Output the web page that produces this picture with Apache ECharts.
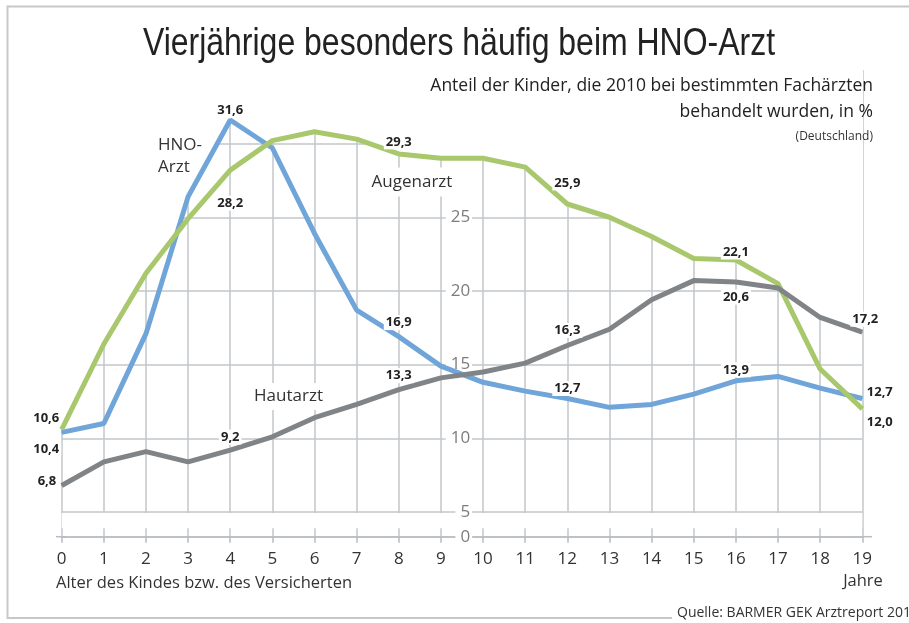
<!DOCTYPE html>
<html>
<head>
<meta charset="utf-8">
<script src="https://cdn.jsdelivr.net/npm/echarts@6/dist/echarts.min.js"></script>
<style>
html,body{margin:0;padding:0;background:#fff;}
#c{width:909px;height:623px;}
</style>
</head>
<body>
<div id="c"></div>
<script>
// ---- data ----
const ages = [0,1,2,3,4,5,6,7,8,9,10,11,12,13,14,15,16,17,18,19];
const hno       = [10.4, 11.0, 17.1, 26.4, 31.6, 29.7, 23.9, 18.7, 16.9, 14.9, 13.8, 13.2, 12.7, 12.1, 12.3, 13.0, 13.9, 14.2, 13.4, 12.7];
const augenarzt = [10.6, 16.4, 21.2, 24.9, 28.2, 30.2, 30.8, 30.3, 29.3, 29.0, 29.0, 28.4, 25.9, 25.0, 23.7, 22.2, 22.1, 20.5, 14.7, 12.0];
const hautarzt  = [6.8, 8.4, 9.1, 8.4, 9.2, 10.1, 11.4, 12.3, 13.3, 14.1, 14.5, 15.1, 16.3, 17.4, 19.4, 20.7, 20.6, 20.2, 18.2, 17.2];
const yTickLabels = ['0','5','10','15','20','25'];

// ---- label placement (style only) ----
const hnoLabels = [
  {i:0, pos:'left', d:0, off:[0,16.5]},
  {i:4, pos:'top', d:2},
  {i:8, pos:'top', d:6},
  {i:12, pos:'top', d:2},
  {i:16, pos:'top', d:3},
  {i:19, pos:'right', d:2, off:[0,-6]}
];
const augLabels = [
  {i:0, pos:'left', d:0, off:[0,-11.5]},
  {i:4, pos:'bottom', d:25},
  {i:8, pos:'top', d:4},
  {i:12, pos:'top', d:13},
  {i:16, pos:'top', d:0},
  {i:19, pos:'right', d:2, off:[0,13]}
];
const hautLabels = [
  {i:0, pos:'left', d:3, off:[0,-4]},
  {i:4, pos:'top', d:5},
  {i:8, pos:'top', d:6},
  {i:12, pos:'top', d:7},
  {i:16, pos:'bottom', d:7},
  {i:19, pos:'top', d:5, off:[3,0]}
];

const Y_MIN = 3.322, Y_MAX = 35;
const FONT = '"Open Sans", "Noto Sans", sans-serif';

function fmt(v){ return v.toFixed(1).replace('.', ','); }

function buildData(vals, specs){
  return vals.map(function(v, i){
    const s = specs.find(function(o){ return o.i === i; });
    const item = {value:[ages[i], v]};
    if (s) {
      item.label = {
        show:true, position:s.pos, distance:s.d, offset:s.off || [0,0],
        formatter: fmt(v),
        fontFamily: FONT, fontWeight:'bold', fontSize:13, color:'#222',
        backgroundColor:'#fff', padding:[1,2]
      };
    }
    return item;
  });
}

// upper envelope of all series (incl. crossing points) to clip the grid
function envelope(list){
  const n = ages.length, pts = [];
  for (let i = 0; i < n - 1; i++) {
    const ts = [0];
    for (let a = 0; a < list.length; a++) for (let b = a + 1; b < list.length; b++) {
      const da = list[a][i+1] - list[a][i], db = list[b][i+1] - list[b][i];
      const den = da - db;
      if (den !== 0) {
        const t = (list[b][i] - list[a][i]) / den;
        if (t > 0 && t < 1) ts.push(t);
      }
    }
    ts.sort(function(p,q){return p-q;});
    ts.forEach(function(t){
      let m = -Infinity;
      list.forEach(function(s){ m = Math.max(m, s[i] + t * (s[i+1] - s[i])); });
      pts.push([ages[i] + t * (ages[i+1] - ages[i]), m]);
    });
  }
  let m = -Infinity;
  list.forEach(function(s){ m = Math.max(m, s[n-1]); });
  pts.push([ages[n-1], m]);
  // widen slightly so the edge grid lines are covered too
  const pad = 0.06;
  pts.unshift([pts[0][0] - pad, pts[0][1]]);
  pts.push([pts[pts.length-1][0] + pad, pts[pts.length-1][1]]);
  return pts;
}

const chart = echarts.init(document.getElementById('c'), null, {renderer:'canvas'});

const gridColor = '#c3c7cb';
const lineW = 5;

const option = {
  animation:false,
  backgroundColor:'#fff',
  grid:{left:61.7, right:46.7, top:69.9, bottom:86.3, containLabel:false},
  xAxis:{
    type:'value', min:0, max:19, interval:1, z:0,
    axisLine:{show:true, lineStyle:{color:'#b8bcc0', width:1.5},
      symbol:['rect','rect'], symbolSize:[1.5,10], symbolOffset:[-0.7,4.7]},
    axisTick:{show:true, length:6, lineStyle:{color:'#b8bcc0', width:1.5}},
    axisLabel:{color:'#333', fontSize:17, fontFamily:FONT, margin:14},
    splitLine:{show:true, lineStyle:{color:gridColor, width:1.5}}
  },
  yAxis:[
    {
      type:'value', min:Y_MIN, max:Y_MAX, minInterval:5, maxInterval:5, z:0,
      axisLine:{show:false}, axisTick:{show:false}, axisLabel:{show:false},
      splitLine:{show:true, showMaxLine:false, lineStyle:{color:gridColor, width:1.5}}
    },
    {
      type:'value', min:Y_MIN, max:Y_MAX, minInterval:5, maxInterval:5, z:2,
      position:'left', offset:-421.4,
      axisLine:{show:false}, axisTick:{show:false}, splitLine:{show:false},
      axisLabel:{
        show:true, color:'#7d7d7d', fontSize:17, fontFamily:FONT, margin:11,
        backgroundColor:'#fff', padding:[0,2,0,5],
        formatter:function(v){
          if (v < 4) return yTickLabels[0];
          const idx = Math.round(v/5);
          return (idx < yTickLabels.length && Math.abs(v - idx*5) < 0.01) ? yTickLabels[idx] : '';
        }
      }
    }
  ],
  series:[
    {
      name:'envelope', type:'line', data:envelope([hno, augenarzt, hautarzt]),
      symbol:'none', silent:true, z:1, clip:false,
      lineStyle:{width:0, opacity:0},
      areaStyle:{color:'#fff', opacity:1, origin:'end'},
      markArea:{
        silent:true,
        itemStyle:{color:'#fff', opacity:1},
        label:{show:false},
        data:[[{yAxis:3.9},{yAxis:4.93}]]
      }
    },
    {
      name:'HNO-Arzt', type:'line', data:buildData(hno, hnoLabels), z:3,
      symbol:'circle', symbolSize:1, showSymbol:true,
      itemStyle:{color:'#6fa5d8'}, lineStyle:{color:'#6fa5d8', width:lineW}
    },
    {
      name:'Augenarzt', type:'line', data:buildData(augenarzt, augLabels), z:3,
      symbol:'circle', symbolSize:1, showSymbol:true,
      itemStyle:{color:'#a9c86d'}, lineStyle:{color:'#a9c86d', width:lineW}
    },
    {
      name:'Hautarzt', type:'line', data:buildData(hautarzt, hautLabels), z:3,
      symbol:'circle', symbolSize:1, showSymbol:true,
      itemStyle:{color:'#808487'}, lineStyle:{color:'#808487', width:lineW}
    }
  ],
  graphic:[
    {type:'rect', z:100, silent:true, shape:{x:7.5, y:6.5, width:930, height:611.5},
     style:{fill:null, stroke:'#c8c8c8', lineWidth:2}},
    {type:'text', z:100, x:459, y:44, scaleX:0.82, style:{text:'Vierjährige besonders häufig beim HNO-Arzt',
      font:'39px "Liberation Sans", sans-serif', fill:'#222', align:'center', verticalAlign:'middle'}},
    {type:'text', z:100, x:873, y:86, style:{text:'Anteil der Kinder, die 2010 bei bestimmten Fachärzten',
      font:'17.5px '+FONT, fill:'#222', align:'right', verticalAlign:'middle'}},
    {type:'text', z:100, x:873, y:112, style:{text:'behandelt wurden, in %',
      font:'17.5px '+FONT, fill:'#222', align:'right', verticalAlign:'middle'}},
    {type:'text', z:100, x:873, y:137, style:{text:'(Deutschland)',
      font:'12px '+FONT, fill:'#333', align:'right', verticalAlign:'middle'}},
    {type:'text', z:100, x:158, y:145, style:{text:'HNO-',
      font:'17px '+FONT, fill:'#333', align:'left', verticalAlign:'middle'}},
    {type:'text', z:100, x:158, y:167, style:{text:'Arzt',
      font:'17px '+FONT, fill:'#333', align:'left', verticalAlign:'middle'}},
    {type:'text', z:100, x:412, y:182, style:{text:'Augenarzt',
      font:'17px '+FONT, fill:'#333', align:'center', verticalAlign:'middle',
      backgroundColor:'#fff', padding:[6,4]}},
    {type:'text', z:100, x:288.5, y:396.5, style:{text:'Hautarzt',
      font:'17px '+FONT, fill:'#333', align:'center', verticalAlign:'middle',
      backgroundColor:'#fff', padding:[5,4]}},
    {type:'text', z:100, x:56, y:583, style:{text:'Alter des Kindes bzw. des Versicherten',
      font:'16.5px '+FONT, fill:'#333', align:'left', verticalAlign:'middle'}},
    {type:'text', z:100, x:863, y:581, style:{text:'Jahre',
      font:'16.5px '+FONT, fill:'#333', align:'center', verticalAlign:'middle'}},
    {type:'text', z:100, x:672, y:613, style:{text:'Quelle: BARMER GEK Arztreport 2011',
      font:'14px '+FONT, fill:'#333', align:'left', verticalAlign:'middle',
      backgroundColor:'#fff', padding:[2,0,2,5]}}
  ]
};
chart.setOption(option);
</script>
</body>
</html>
